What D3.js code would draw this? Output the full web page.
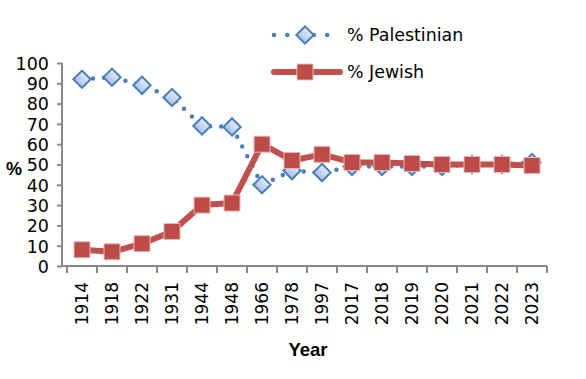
<!DOCTYPE html>
<html>
<head>
<meta charset="utf-8">
<script src="https://cdn.jsdelivr.net/npm/d3@7"></script>
<style>
  html, body { margin: 0; padding: 0; background: #fff; }
  svg { display: block; }
</style>
</head>
<body>
<div id="chart"></div>
<script>
const years = ["1914","1918","1922","1931","1944","1948","1966","1978","1997","2017","2018","2019","2020","2021","2022","2023"];
const palestinian = [92, 93, 89, 83, 69, 68.5, 40, 47, 46, 49, 49, 49, 49, 50, 50, 51];
const jewish = [8, 7, 11, 17, 30, 31, 60, 52, 55, 51, 51, 50.5, 50, 50, 50, 49.5];
const yTicks = [0, 10, 20, 30, 40, 50, 60, 70, 80, 90, 100];
const seriesNames = ["% Palestinian", "% Jewish"];

const W = 586, H = 379;
const svg = d3.select("#chart").append("svg").attr("width", W).attr("height", H);

const defs = svg.append("defs");
const grad = defs.append("linearGradient").attr("id", "dgrad")
  .attr("x1", 0).attr("y1", 0).attr("x2", 0).attr("y2", 1);
grad.append("stop").attr("offset", "0%").attr("stop-color", "#e3ebf7");
grad.append("stop").attr("offset", "100%").attr("stop-color", "#a9c1e6");

const axisX0 = 62, plotL = 67, plotR = 547;
const x = d3.scaleBand().domain(years).range([plotL, plotR]);
const y = d3.scaleLinear().domain([0, 100]).range([266, 63]);

const axisColor = "#888888";
const font = "'DejaVu Sans', sans-serif";

// Y axis
const yAxis = svg.append("g").attr("transform", `translate(${axisX0},0)`)
  .call(d3.axisLeft(y).tickValues(yTicks).tickSize(5).tickPadding(8));
yAxis.select(".domain").attr("stroke", axisColor).attr("stroke-width", 2)
  .attr("d", `M0,${y(100)}V${y(0)}`);
yAxis.selectAll(".tick line").attr("stroke", axisColor).attr("stroke-width", 2);
yAxis.selectAll(".tick text").attr("font-family", font).attr("font-size", 17.5)
  .attr("fill", "#000").attr("dy", "0.36em").attr("x", -13);

// X axis
const xg = svg.append("g");
xg.append("line").attr("x1", axisX0).attr("x2", plotR).attr("y1", y(0)).attr("y2", y(0))
  .attr("stroke", axisColor).attr("stroke-width", 2);
const boundaries = years.map(d => x(d)).concat([x(years[years.length - 1]) + x.bandwidth()]);
xg.selectAll("line.tk").data(boundaries).join("line").attr("class", "tk")
  .attr("x1", d => d).attr("x2", d => d).attr("y1", y(0)).attr("y2", y(0) + 7)
  .attr("stroke", axisColor).attr("stroke-width", 2);
xg.selectAll("text").data(years).join("text")
  .attr("transform", d => `translate(${x(d) + x.bandwidth() / 2},282) rotate(-90)`)
  .attr("text-anchor", "end").attr("dy", "0.36em")
  .attr("font-family", font).attr("font-size", 17).attr("fill", "#000")
  .text(d => d);

// Axis titles
svg.append("text").attr("x", 14).attr("y", 175).attr("text-anchor", "middle")
  .attr("font-family", "'Liberation Sans', Arial, sans-serif").attr("font-weight", "bold")
  .attr("font-size", 18).text("%");
svg.append("text").attr("x", 308).attr("y", 356).attr("text-anchor", "middle")
  .attr("font-family", "'Liberation Sans', Arial, sans-serif").attr("font-weight", "bold")
  .attr("font-size", 18.5).text("Year");

const cx = (d, i) => x(years[i]) + x.bandwidth() / 2;
const blue = "#4a7ebb", red = "#c0504d";

// Palestinian series
const pl = d3.line().x((d, i) => cx(d, i)).y(d => y(d));
svg.append("path").attr("d", pl(palestinian)).attr("fill", "none")
  .attr("stroke", blue).attr("stroke-width", 4.5).attr("stroke-linecap", "round")
  .attr("stroke-dasharray", "0 11");
const diamond = d3.symbol().type(d3.symbolSquare).size(150);
svg.append("g").selectAll("path").data(palestinian).join("path")
  .attr("d", diamond())
  .attr("transform", (d, i) => `translate(${cx(d, i)},${y(d)}) rotate(45)`)
  .attr("fill", "url(#dgrad)").attr("stroke", blue).attr("stroke-width", 2);

// Jewish series
svg.append("path").attr("d", pl(jewish)).attr("fill", "none")
  .attr("stroke", red).attr("stroke-width", 6).attr("stroke-linejoin", "round");
const sq = d3.symbol().type(d3.symbolSquare).size(256);
svg.append("g").selectAll("path").data(jewish).join("path")
  .attr("d", sq())
  .attr("transform", (d, i) => `translate(${cx(d, i)},${y(d)})`)
  .attr("fill", "#bd4b48").attr("stroke", "#e8b7b6").attr("stroke-width", 1);

// Legend
const lg = svg.append("g");
lg.append("line").attr("x1", 274).attr("x2", 338).attr("y1", 35).attr("y2", 35)
  .attr("stroke", blue).attr("stroke-width", 4.5).attr("stroke-linecap", "round")
  .attr("stroke-dasharray", "0 13.3");
lg.append("path").attr("d", diamond()).attr("transform", "translate(305,35) rotate(45)")
  .attr("fill", "url(#dgrad)").attr("stroke", blue).attr("stroke-width", 2);
lg.append("line").attr("x1", 274).attr("x2", 340).attr("y1", 72).attr("y2", 72)
  .attr("stroke", red).attr("stroke-width", 6).attr("stroke-linecap", "round");
lg.append("path").attr("d", sq()).attr("transform", "translate(305,72)")
  .attr("fill", "#bd4b48").attr("stroke", "#e8b7b6").attr("stroke-width", 1);
lg.selectAll("text").data(seriesNames).join("text")
  .attr("x", 347).attr("y", (d, i) => i === 0 ? 35 : 72).attr("dy", "0.36em")
  .attr("font-family", font).attr("font-size", 17.4).attr("fill", "#000")
  .text(d => d);
</script>
</body>
</html>
